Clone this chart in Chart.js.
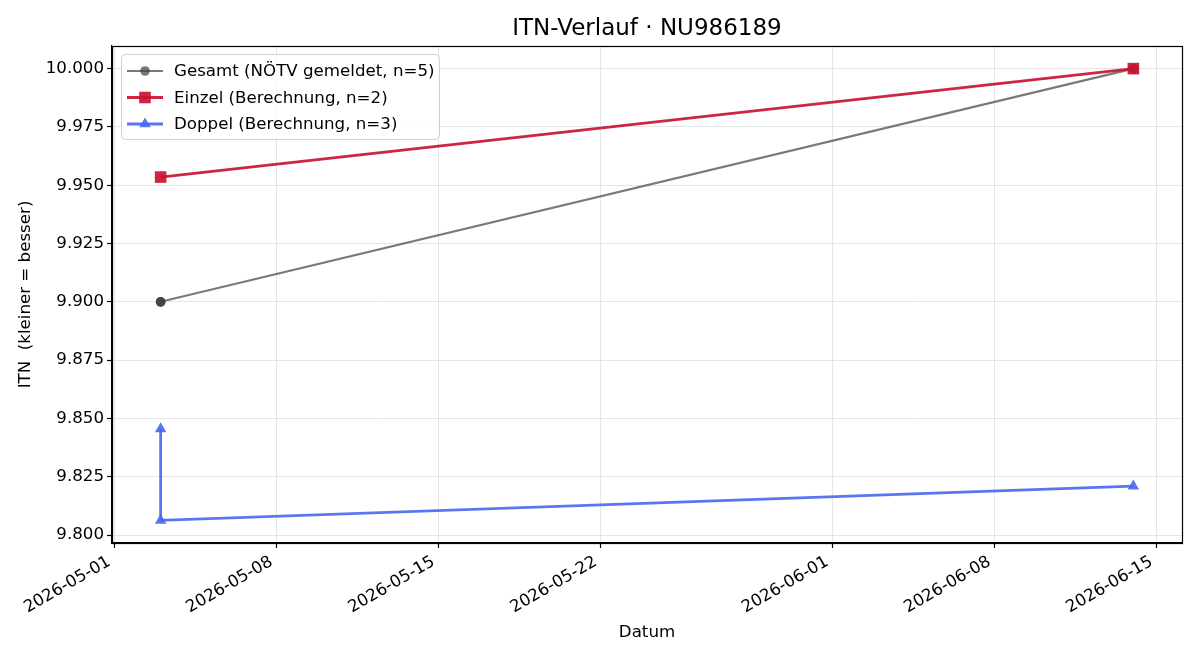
<!DOCTYPE html>
<html>
<head>
<meta charset="utf-8">
<script src="https://cdn.jsdelivr.net/npm/chart.js@4.4.1/dist/chart.umd.min.js"></script>
<style>
html,body{margin:0;padding:0;background:#fff;}
canvas{display:block;}
</style>
</head>
<body>
<canvas id="c" width="1200" height="660"></canvas>
<script>
// ---- data ----
const chartTitle = 'ITN-Verlauf · NU986189';
const xAxisTitle = 'Datum';
const yAxisTitle = 'ITN  (kleiner = besser)';
const baseDate = '2026-05-01';
const xTickDates = ['2026-05-01','2026-05-08','2026-05-15','2026-05-22','2026-06-01','2026-06-08','2026-06-15'];
const yTickValues = [9.800, 9.825, 9.850, 9.875, 9.900, 9.925, 9.950, 9.975, 10.000];
const seriesLabels = ['Gesamt (NÖTV gemeldet, n=5)', 'Einzel (Berechnung, n=2)', 'Doppel (Berechnung, n=3)'];
const gesamtDates = ['2026-05-03','2026-05-03','2026-05-03','2026-06-14','2026-06-14'];
const gesamtValues = [9.900, 9.900, 9.900, 10.000, 10.000];
const einzelDates = ['2026-05-03','2026-06-14'];
const einzelValues = [9.9535, 10.000];
const doppelDates = ['2026-05-03','2026-05-03','2026-06-14'];
const doppelValues = [9.8455, 9.8063, 9.821];
const xRange = ['2026-04-30T21:36', '2026-06-16T02:24'];
const yRange = [9.7966, 10.0097];

// ---- helpers ----
const DAY = 86400000;
function dayNum(s){ return (Date.parse(s + (s.length===10?'T00:00Z':'Z')) - Date.parse(baseDate+'T00:00Z'))/DAY; }
function fmtDay(v){
  const d = new Date(Date.parse(baseDate+'T00:00Z') + Math.round(v)*DAY);
  return d.toISOString().slice(0,10);
}
function pts(dates, vals){ return dates.map((d,i)=>({x: dayNum(d), y: vals[i]})); }

const FONT = 'DejaVu Sans';
const FS = 16.67;
const styles = [
  {color:'rgba(64,64,64,0.7)', width:2.1, point:'circle', r:4.8},
  {color:'rgba(200,20,50,0.92)', width:2.8, point:'rect', r:8.2},
  {color:'rgba(75,105,240,0.92)', width:2.8, point:'triangle', r:6.6}
];

const datasets = [
  {data: pts(gesamtDates, gesamtValues)},
  {data: pts(einzelDates, einzelValues)},
  {data: pts(doppelDates, doppelValues)}
].map((d,i)=>Object.assign(d,{
  label: seriesLabels[i],
  borderColor: styles[i].color,
  backgroundColor: styles[i].color,
  borderWidth: styles[i].width,
  pointStyle: styles[i].point,
  pointRadius: styles[i].r,
  pointHoverRadius: styles[i].r,
  pointBorderWidth: 0,
  pointBackgroundColor: styles[i].color,
  tension: 0,
  fill: false,
  order: 3-i
}));

const framePlugin = {
  id:'frame',
  afterDraw(chart){
    const {ctx, chartArea:a} = chart;
    ctx.save();
    ctx.strokeStyle = '#000';
    ctx.lineWidth = 1.2;
    ctx.strokeRect(Math.round(a.left)+0.5, Math.round(a.top)+0.5, Math.round(a.right-a.left), Math.round(a.bottom-a.top));
    // title centred over the plot area
    ctx.fillStyle = '#000';
    ctx.font = '23px "' + FONT + '"';
    ctx.textAlign = 'center';
    ctx.textBaseline = 'middle';
    ctx.fillText(chartTitle, (a.left + a.right)/2, 29);
    ctx.restore();
  }
};

const legendPlugin = {
  id:'mplLegend',
  afterDraw(chart){
    const ctx = chart.ctx;
    const a = chart.chartArea;
    const x0 = a.left + 9, y0 = a.top + 8, w = 318, h = 85;
    ctx.save();
    ctx.beginPath();
    if (ctx.roundRect) ctx.roundRect(x0+0.5, y0+0.5, w, h, 4); else ctx.rect(x0+0.5,y0+0.5,w,h);
    ctx.fillStyle = 'rgba(255,255,255,0.8)';
    ctx.fill();
    ctx.strokeStyle = '#d0d0d0';
    ctx.lineWidth = 1;
    ctx.stroke();
    ctx.font = FS + 'px "' + FONT + '"';
    ctx.textBaseline = 'middle';
    ctx.textAlign = 'left';
    const rows = [y0+17, y0+43.5, y0+70];
    chart.data.datasets.forEach((ds,i)=>{
      const y = rows[i];
      const s = styles[i];
      ctx.strokeStyle = s.color;
      ctx.lineWidth = s.width;
      ctx.beginPath();
      ctx.moveTo(x0+6, y); ctx.lineTo(x0+42, y); ctx.stroke();
      ctx.fillStyle = s.color;
      ctx.beginPath();
      if (s.point==='circle'){ ctx.arc(x0+24,y,s.r,0,Math.PI*2); }
      else if (s.point==='rect'){ const q=s.r*Math.SQRT1_2; ctx.rect(x0+24-q,y-q,2*q,2*q); }
      else { const r=s.r; ctx.moveTo(x0+24, y-r); ctx.lineTo(x0+24+r*0.866, y+r*0.5); ctx.lineTo(x0+24-r*0.866, y+r*0.5); ctx.closePath(); }
      ctx.fill();
      ctx.fillStyle = '#000';
      ctx.fillText(ds.label, x0+53, y+1);
    });
    ctx.restore();
  }
};

const xTickVals = xTickDates.map(dayNum);

new Chart(document.getElementById('c'), {
  type: 'line',
  data: { datasets },
  options: {
    responsive: false,
    devicePixelRatio: 1,
    animation: false,
    layout: { padding: { left: 0, right: 18, top: 46, bottom: 0 } },
    plugins: {
      legend: { display: false },
      tooltip: { enabled: false },
      title: { display: false }
    },
    scales: {
      x: {
        type: 'linear',
        min: dayNum(xRange[0]),
        max: dayNum(xRange[1]),
        afterBuildTicks: s => { s.ticks = xTickVals.map(v=>({value:v})); },
        afterFit: s => { s.height = 117; },
        ticks: {
          autoSkip: false,
          minRotation: 30, maxRotation: 30,
          color: '#000',
          padding: 4,
          labelOffset: -5,
          font: { family: FONT, size: FS },
          callback: v => fmtDay(v)
        },
        grid: { color: '#e6e6e6', lineWidth: 1, tickColor: '#000', tickLength: 5, tickWidth: 1.2 },
        border: { display: true, color: '#000', width: 1.2 },
        title: { display: true, text: xAxisTitle, color: '#000', font: { family: FONT, size: FS }, padding: { top: 0, bottom: 17 } }
      },
      y: {
        type: 'linear',
        min: yRange[0],
        max: yRange[1],
        afterBuildTicks: s => { s.ticks = yTickValues.map(v=>({value:v})); },
        afterFit: s => { s.width = 112; },
        ticks: {
          color: '#000',
          padding: 3,
          font: { family: FONT, size: FS },
          callback: v => v.toFixed(3)
        },
        grid: { color: '#e6e6e6', lineWidth: 1, tickColor: '#000', tickLength: 5, tickWidth: 1.2 },
        border: { display: true, color: '#000', width: 1.2 },
        title: { display: true, text: yAxisTitle, color: '#000', font: { family: FONT, size: FS }, padding: { top: 16, bottom: 0 } }
      }
    }
  },
  plugins: [framePlugin, legendPlugin]
});
</script>
</body>
</html>
